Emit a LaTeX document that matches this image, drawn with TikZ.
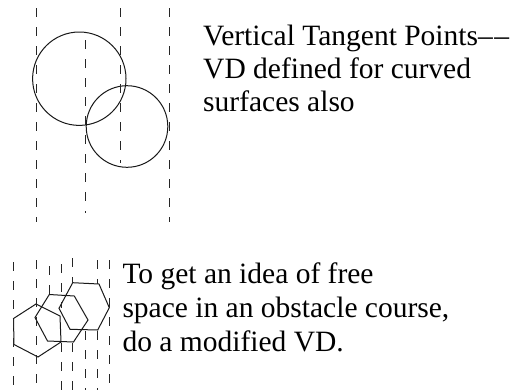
\documentclass[tikz,border=0pt]{standalone}
\usepackage{fontspec}
\setmainfont{Liberation Serif}
\begin{document}
\begin{tikzpicture}[x=1pt,y=-1pt,
  vdline/.style={line width=1pt,draw=black!85,dash pattern=on 9pt off 10pt},
  obst/.style={line width=1pt,draw=black!90},
  txt/.style={inner sep=0pt,anchor=base west,font=\fontsize{29.5}{33}\selectfont,text=black}]
\useasboundingbox (0,0) rectangle (513,391);
% top: circles with vertical tangent lines
\draw[obst] (79.3,78.7) circle[radius=46.7];
\draw[obst] (127,126.5) circle[radius=40.8];
\draw[vdline] (36,8) -- (36,222);
\draw[vdline] (85,40) -- (85,213);
\draw[vdline] (120.7,8) -- (120.7,163);
\draw[vdline] (169,8) -- (169,222);
\node[txt] (t1) at (203,45) {Vertical Tangent Points–\kern1.5pt–};
\node[txt] (t2) at (203,78.5) {VD defined for curved};
\node[txt] (t3) at (203,111.8) {surfaces also};
% bottom: hexagons with modified VD
\draw[obst] (36,304) -- (60,316) -- (61,342) -- (38,357) -- (14,344.5) -- (13.5,318.5) -- cycle;
\draw[obst] (49.3,294.5) -- (74.3,296) -- (88,320) -- (73.5,342) -- (47.5,341) -- (35,317.5) -- cycle;
\draw[obst] (72.7,282.7) -- (99,284) -- (109.3,307.7) -- (97.7,330) -- (70,329.3) -- (59,308.3) -- cycle;
\draw[vdline] (13.5,262) -- (13.5,388);
\draw[vdline] (36.5,260) -- (36.5,385);
\draw[vdline] (49.3,266) -- (49.3,294.5);
\draw[vdline] (61,264) -- (61,308.3);
\draw[vdline] (61,343) -- (61,390);
\draw[vdline] (72.7,258) -- (72.7,282.7);
\draw[vdline] (72.7,343) -- (72.7,390);
\draw[vdline] (85.5,331) -- (85.5,390);
\draw[vdline] (97.7,260) -- (97.7,284);
\draw[vdline] (97.7,331) -- (97.7,390);
\draw[vdline] (109.3,260) -- (109.3,390);
\node[txt] (b1) at (122.3,283.3) {To get an idea of free};
\node[txt] (b2) at (122.3,317.5) {space in an obstacle course,};
\node[txt] (b3) at (122.3,351.5) {do a modified VD.};
\end{tikzpicture}
\end{document}
